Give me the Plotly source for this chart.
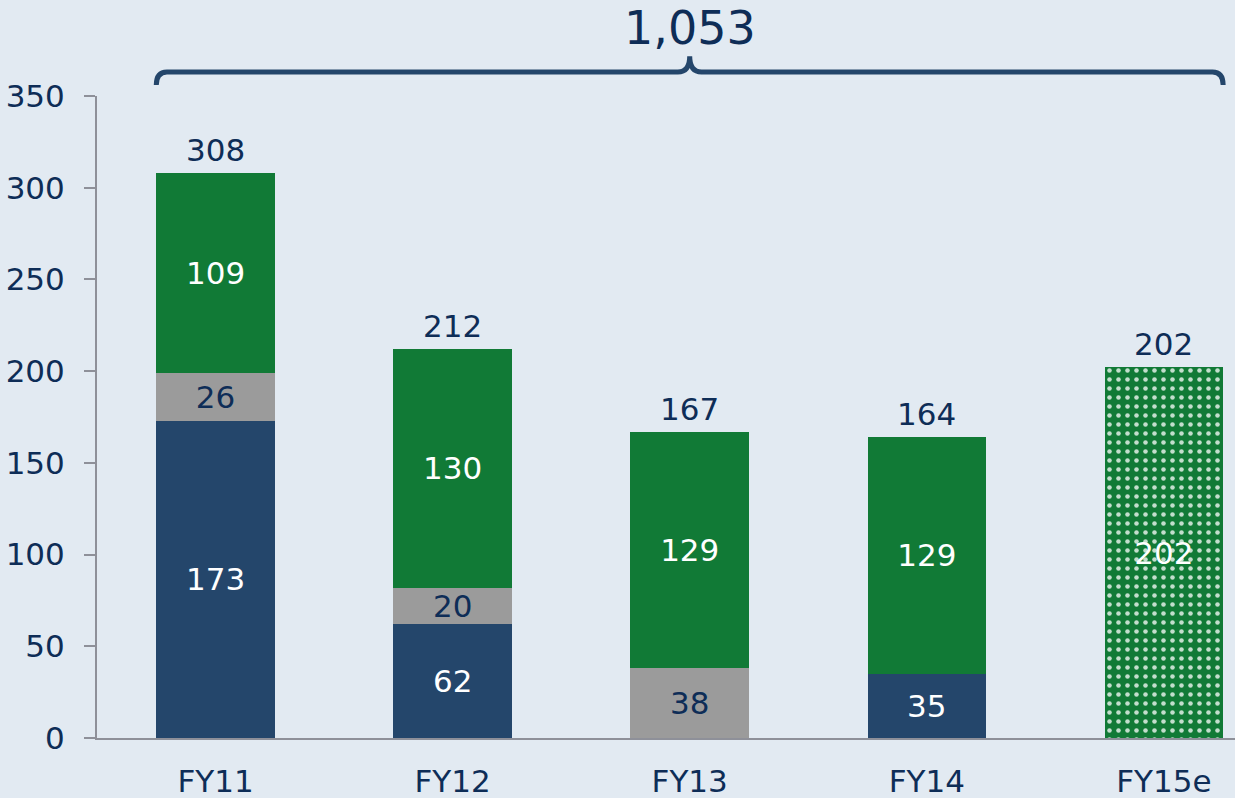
import plotly.graph_objects as go

categories = ["FY11", "FY12", "FY13", "FY14", "FY15e"]
navy_vals = [173, 62, None, 35, None]
gray_vals = [26, 20, 38, None, None]
green_vals = [109, 130, 129, 129, None]
estimate_vals = [None, None, None, None, 202]
totals = [308, 212, 167, 164, 202]
y_ticks = [0, 50, 100, 150, 200, 250, 300, 350]

NAVY = "#24466B"
GRAY = "#9B9B9B"
GREEN = "#117A36"
TEXT = "#0E2D57"
BG = "#E2EAF2"
AXIS = "#8E9099"
FONT = "DejaVu Sans, Verdana, sans-serif"
FS = 31


def labels(vals):
    return ["" if v is None else str(v) for v in vals]


fig = go.Figure()

series = [
    (navy_vals, NAVY, "white", None),
    (gray_vals, GRAY, TEXT, None),
    (green_vals, GREEN, "white", None),
    (estimate_vals, GREEN, "white", dict(shape=".", bgcolor=GREEN, fgcolor="white",
                                          fgopacity=0.75, size=9, solidity=0.2)),
]
for vals, col, tcol, pat in series:
    marker = dict(color=col, line=dict(width=0))
    if pat:
        marker["pattern"] = pat
    fig.add_trace(go.Bar(
        x=categories, y=vals, marker=marker,
        text=labels(vals), textposition="inside", insidetextanchor="middle",
        textangle=0, constraintext="none",
        textfont=dict(family=FONT, size=FS, color=tcol),
        hoverinfo="skip", showlegend=False,
    ))

for c, t in zip(categories, totals):
    fig.add_annotation(x=c, y=t, text=str(t), showarrow=False, yanchor="bottom",
                       yshift=3, font=dict(family=FONT, size=FS, color=TEXT))

# brace over all bars
bargap = 0.5
half = (1 - bargap) / 2
x0 = -half
x1 = len(categories) - 1 + half
xm = (x0 + x1) / 2
r = 0.045
c = 0.05
y_end, y_top, y_cusp = 1.017, 1.0375, 1.062
path = (f"M {x0},{y_end} Q {x0},{y_top} {x0 + r},{y_top} "
        f"L {xm - c},{y_top} Q {xm},{y_top} {xm},{y_cusp} "
        f"Q {xm},{y_top} {xm + c},{y_top} "
        f"L {x1 - r},{y_top} Q {x1},{y_top} {x1},{y_end}")
fig.add_shape(type="path", path=path, xref="x", yref="paper",
              line=dict(color=NAVY, width=5))
fig.add_annotation(x=xm, xref="x", y=1.106, yref="paper", text=f"{sum(totals):,}",
                   showarrow=False, yanchor="middle",
                   font=dict(family=FONT, size=46, color=TEXT))

fig.update_layout(
    barmode="stack", bargap=bargap,
    width=1235, height=798,
    margin=dict(l=97, r=0, t=96, b=60),
    paper_bgcolor=BG, plot_bgcolor=BG,
    font=dict(family=FONT, size=FS, color=TEXT),
)
fig.update_xaxes(
    range=[-0.5, 4.3], showgrid=False, showline=True, linecolor=AXIS, linewidth=2,
    ticks="", tickfont=dict(family=FONT, size=FS, color=TEXT), ticklabelstandoff=15,
)
fig.update_yaxes(
    range=[0, 350], tickvals=y_ticks, showgrid=False, zeroline=False,
    showline=True, linecolor=AXIS, linewidth=2,
    ticks="outside", ticklen=11, tickwidth=2, tickcolor=AXIS,
    tickfont=dict(family=FONT, size=FS, color=TEXT), ticklabelstandoff=13,
)

fig.write_html("out.html", config={"displayModeBar": False},
               post_script="document.body.style.margin='0';document.body.style.padding='0';")
